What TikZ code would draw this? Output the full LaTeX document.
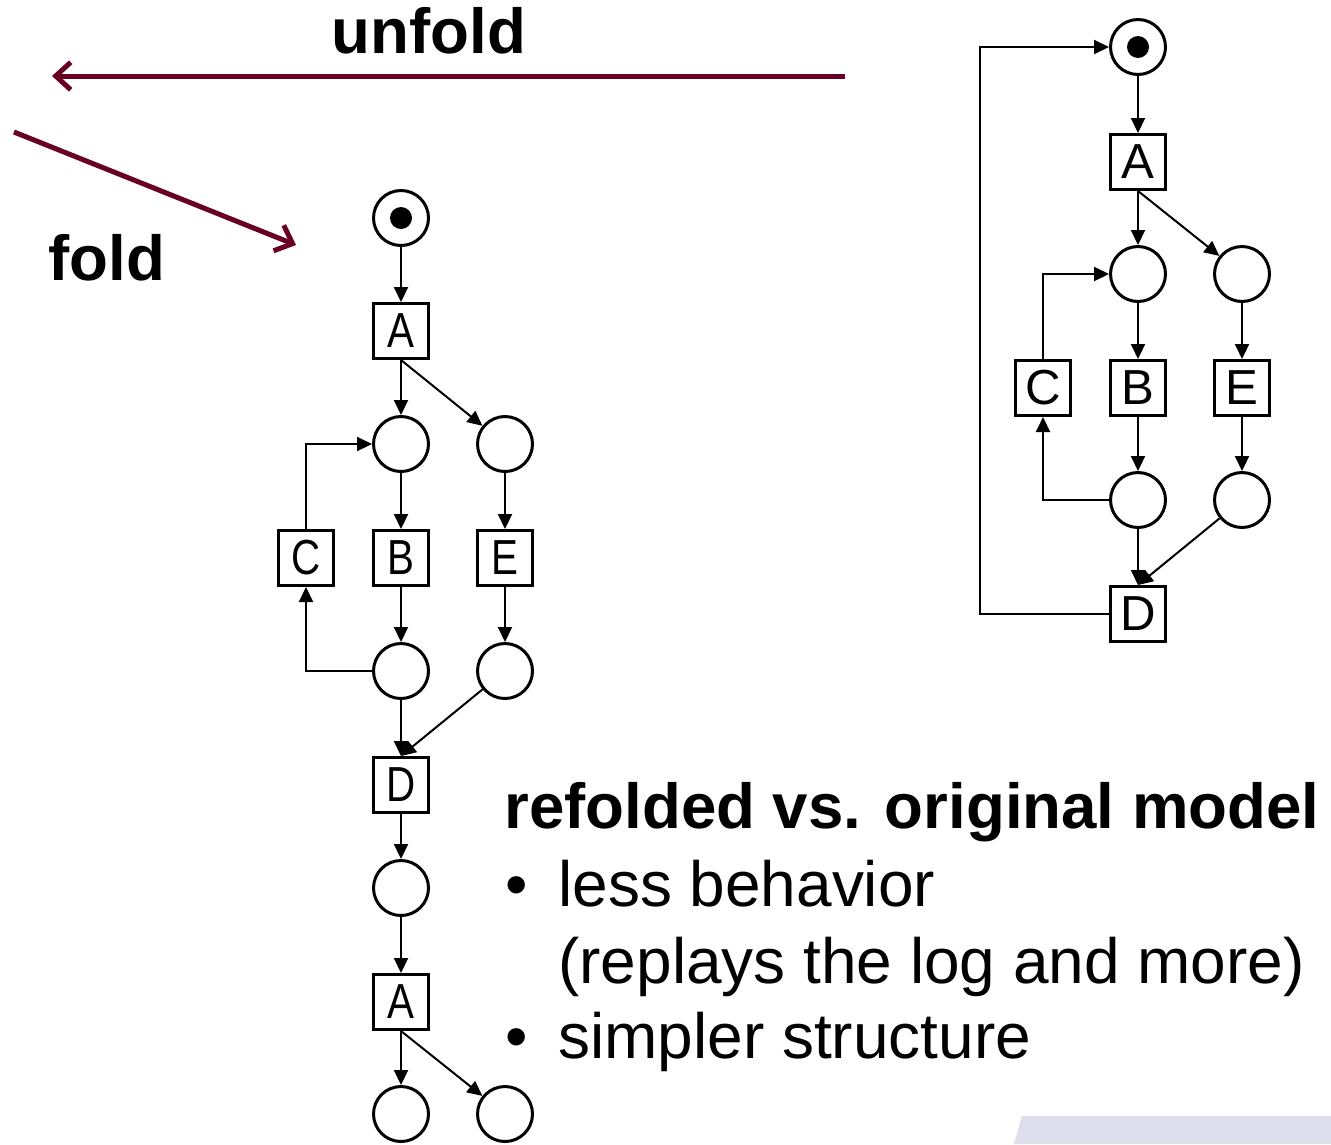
\documentclass[tikz,border=0pt]{standalone}
\usepackage{fontspec}
\setmainfont{Liberation Sans}
\newfontfamily\narrowsf[FakeStretch=0.82]{Liberation Sans}
\usetikzlibrary{arrows.meta}
\definecolor{foldred}{RGB}{105,0,35}
\definecolor{slidebar}{RGB}{221,221,236}

\begin{document}
\begin{tikzpicture}[
    % pixel-like units, y pointing down
    x=0.02cm, y=-0.02cm,
    place/.style     = {circle, draw, line width=0.06cm, minimum size=1.1cm, inner sep=0pt},
    trans/.style     = {rectangle, draw, line width=0.06cm, minimum size=1.1cm, inner sep=0pt, font=\fontsize{28}{28}\selectfont},
    ltrans/.style    = {trans, font=\narrowsf\fontsize{28}{28}\selectfont},
    arc/.style       = {-{Triangle[length=0.3cm, width=0.28cm]}, line width=0.04cm},
    foldarrow/.style = {-{Straight Barb[length=0.3cm, width=0.55cm]}, line width=0.1cm, draw=foldred},
    big/.style       = {font=\fontsize{36.4}{36}\selectfont, inner sep=0pt},
    bigb/.style      = {font=\bfseries\fontsize{36.2}{36}\selectfont, inner sep=0pt}
  ]
  \useasboundingbox (0,0) rectangle (1331,1144);

  % slide footer strip
  \fill[slidebar] (1022,1116) -- (1331,1116) -- (1331,1144) -- (1014,1144) -- cycle;

  % ===== Fold / unfold arrows =====
  \coordinate (unfoldS) at (845,76);
  \coordinate (unfoldE) at (52,76);
  \coordinate (foldS) at (14,132);
  \coordinate (foldE) at (296,245);
  \draw[foldarrow] (unfoldS) -- (unfoldE);
  \draw[foldarrow] (foldS) -- (foldE);
  \node[bigb, anchor=base] (unfoldlab) at (429,53) {unfold};
  \node[bigb, anchor=base west] (foldlab) at (48,280) {fold};

  % ===== Left: refolded (unrolled) model =====
  \foreach \n/\px/\py in {ls/401/218, lp1/401/444, lp2/505/444, lp3/401/671, lp4/505/671, lp5/401/888, lp6/401/1114, lp7/505/1114}{
    \node[place] (\n) at (\px,\py) {};
  }
  \foreach \n/\lab/\px/\py in {lA/A/401/331, lC/C/306/558, lB/B/401/558, lE/E/505/558, lD/D/401/785, lA2/A/401/1002}{
    \node[ltrans] (\n) at (\px,\py) {\lab};
  }
  \fill (ls) circle [radius=0.22cm];

  \foreach \u/\v in {ls/lA, lA/lp1, lp1/lB, lB/lp3, lp2/lE, lE/lp4, lD/lp5, lp5/lA2, lA2/lp6}{
    \draw[arc] (\u) -- (\v);
  }
  \draw[arc] (lA.south) -- (lp2);
  \draw[arc] (lA2.south) -- (lp7);
  \draw[arc] (lp3) -- (lD.north);
  \draw[arc] (lp4) -- (lD.north);
  \draw[arc] (lp3.west) -| (lC.south);
  \draw[arc] (lC.north) |- (lp1.west);

  % ===== Right: original model =====
  \foreach \n/\px/\py in {rs/1138/47, rp1/1138/274, rp2/1242/274, rp3/1138/500, rp4/1242/500}{
    \node[place] (\n) at (\px,\py) {};
  }
  \foreach \n/\lab/\px/\py in {rA/A/1138/162, rC/C/1043/388, rB/B/1138/388, rE/E/1242/388, rD/D/1138/614}{
    \node[trans] (\n) at (\px,\py) {\lab};
  }
  \fill (rs) circle [radius=0.22cm];

  \foreach \u/\v in {rs/rA, rA/rp1, rp1/rB, rB/rp3, rp2/rE, rE/rp4}{
    \draw[arc] (\u) -- (\v);
  }
  \draw[arc] (rA.south) -- (rp2);
  \draw[arc] (rp3) -- (rD.north);
  \draw[arc] (rp4) -- (rD.north);
  \draw[arc] (rp3.west) -| (rC.south);
  \draw[arc] (rC.north) |- (rp1.west);
  \draw[arc] (rD.west) -- ++(-129,0) |- (rs.west);

  % ===== Comparison text =====
  \node[bigb, anchor=base west] (title) at (504,828) {refolded vs. original model};
  \node[big, anchor=base] (bul1) at (517,906) {\textbullet};
  \node[big, anchor=base west] (item1) at (558,906) {less behavior};
  \node[big, anchor=base west] (item1b) at (558,983) {(replays the log and more)};
  \node[big, anchor=base] (bul2) at (517,1058) {\textbullet};
  \node[big, anchor=base west] (item2) at (558,1058) {simpler structure};

\end{tikzpicture}
\end{document}
